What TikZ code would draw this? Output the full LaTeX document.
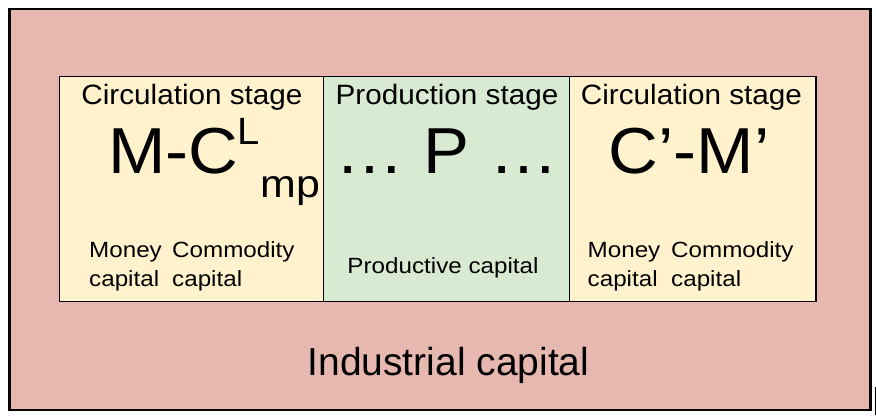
\documentclass[tikz,border=0pt]{standalone}
\usepackage{fontspec}
\setmainfont{Liberation Sans}
\definecolor{outerfill}{HTML}{E6B8AF}
\definecolor{circfill}{HTML}{FFF2CC}
\definecolor{prodfill}{HTML}{D9EAD3}
\newcommand{\sxt}[2]{\scalebox{#1}[1]{#2}}
\tikzset{
  stagebox/.style={draw=black, line width=1.5pt, minimum height=225pt, inner sep=0pt},
  heading/.style={font=\fontsize{28}{32}\selectfont, anchor=base, inner sep=0pt},
  bigtxt/.style={font=\fontsize{65}{70}\selectfont, inner sep=0pt},
  smalltxt/.style={font=\fontsize{22}{26}\selectfont, inner sep=0pt},
}
\begin{document}
\begin{tikzpicture}[x=1pt,y=-1pt]
\useasboundingbox (0,0) rectangle (876,416);
% outer box
\node[draw=black, line width=2.5pt, fill=outerfill, minimum width=861pt, minimum height=401pt, inner sep=0pt] (outer) at (440,209.5) {};
\draw[line width=1.2pt] (875.5,387) -- (875.5,415);
% stage boxes
\node[stagebox, fill=circfill, minimum width=264pt] (left) at (191.5,189) {};
\node[stagebox, fill=prodfill, minimum width=246pt] (mid) at (446.5,189) {};
\node[stagebox, fill=circfill, minimum width=246.5pt] (right) at (692.75,189) {};
% headings
\node[heading] (h1) at (192,104) {\sxt{1.06}{Circulation stage}};
\node[heading] (h2) at (447,104) {\sxt{1.06}{Production stage}};
\node[heading] (h3) at (691.5,104) {\sxt{1.06}{Circulation stage}};
% formulas
\node[bigtxt, anchor=base west] (mc) at (108,173) {\sxt{1.06}{M-C}};
\node[font=\fontsize{38}{42}\selectfont, inner sep=0pt, anchor=base west] (sup) at (237,144.5) {\sxt{1.05}{L}};
\node[font=\fontsize{39}{42}\selectfont, inner sep=0pt, anchor=base west] (sub) at (260.5,197) {\sxt{1.1}{mp}};
\node[bigtxt, anchor=base] (p) at (447,173) {\sxt{1.06}{… P …}};
\node[bigtxt, anchor=base west] (cm) at (608.5,173) {\sxt{1.06}{C’-M’}};
% small labels
\node[smalltxt, anchor=base west] (l1) at (89,257.5) {\sxt{1.1}{Money}};
\node[smalltxt, anchor=base west] (l2) at (89,286) {\sxt{1.1}{capital}};
\node[smalltxt, anchor=base west] (l3) at (172,257.5) {\sxt{1.1}{Commodity}};
\node[smalltxt, anchor=base west] (l4) at (172,286) {\sxt{1.1}{capital}};
\node[smalltxt, anchor=base] (pc) at (443,273) {\sxt{1.1}{Productive capital}};
\node[smalltxt, anchor=base west] (r1) at (587.5,257.5) {\sxt{1.1}{Money}};
\node[smalltxt, anchor=base west] (r2) at (587.5,286) {\sxt{1.1}{capital}};
\node[smalltxt, anchor=base west] (r3) at (671,257.5) {\sxt{1.1}{Commodity}};
\node[smalltxt, anchor=base west] (r4) at (671,286) {\sxt{1.1}{capital}};
% industrial
\node[font=\fontsize{39}{44}\selectfont, inner sep=0pt, anchor=base] (ind) at (448.5,375) {Industrial capital};
\end{tikzpicture}
\end{document}
